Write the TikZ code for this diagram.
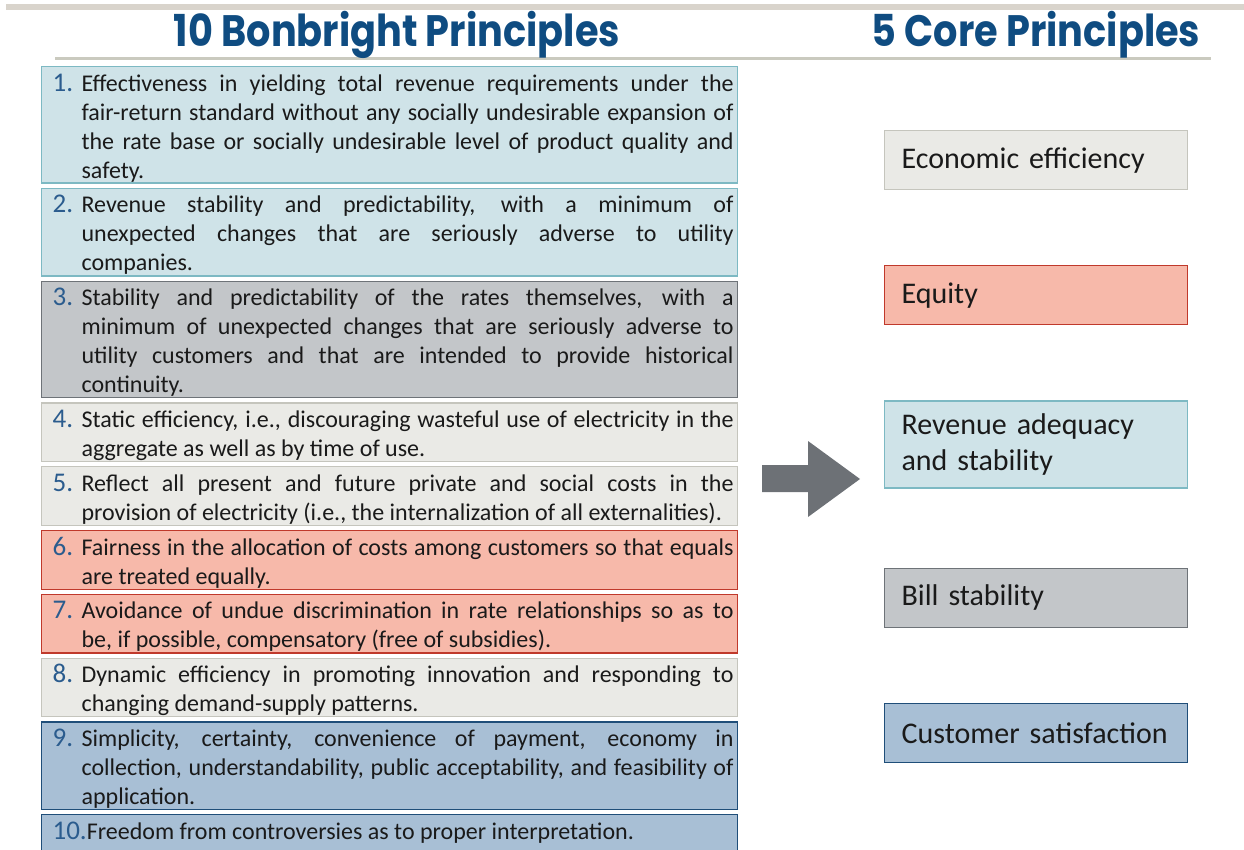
\documentclass[tikz,border=0pt]{standalone}
\usepackage{fontspec}
\setmainfont{Carlito}
\newfontfamily\titlefont{Poppins}
\usetikzlibrary{positioning}

\definecolor{titleblue}{HTML}{0F4C81}
\definecolor{numblue}{HTML}{2B5C8E}
\definecolor{inktext}{HTML}{1A1A1A}
\definecolor{barcol}{HTML}{D9D4CC}
\definecolor{rulecol}{HTML}{CACABF}
\definecolor{tealfill}{HTML}{CFE3E8}
\definecolor{tealline}{HTML}{7DB9C3}
\definecolor{greyfill}{HTML}{C3C6C9}
\definecolor{greyline}{HTML}{6E7378}
\definecolor{palefill}{HTML}{EAEAE6}
\definecolor{paleline}{HTML}{C5C5BD}
\definecolor{redfill}{HTML}{F7B9AA}
\definecolor{redline}{HTML}{C0392B}
\definecolor{bluefill}{HTML}{A8BFD5}
\definecolor{blueline}{HTML}{1F4E79}
\definecolor{arrowcol}{HTML}{6D7176}

\newsavebox\numbox
\newcommand\bnum[1]{\rule{0pt}{24.5pt}\sbox\numbox{\color{numblue}\fontsize{27}{29}\selectfont #1.}%
  \ifdim\wd\numbox<29pt \makebox[29pt][l]{\usebox\numbox}\else\usebox\numbox\fi}

\begin{document}
\begin{tikzpicture}[x=1pt,y=-1pt,
    every node/.style={text=inktext},
    lbox/.style={draw, line width=1.2pt, text width=696pt, inner xsep=0pt, inner ysep=0pt,
      align=justify, font=\fontsize{24}{29}\selectfont,
      execute at begin node={\leftskip=11pt\rightskip=4pt\hangindent=29pt\hangafter=1
        \hyphenpenalty=10000\tolerance=10000},
      execute at end node={\rule[-5pt]{0pt}{0pt}}},
    rbox/.style={draw, line width=1.2pt, minimum width=303pt, minimum height=59pt,
      text width=269pt, inner xsep=17pt, align=left, font=\fontsize{30}{36}\selectfont},
    teal/.style={fill=tealfill, draw=tealline},
    grey/.style={fill=greyfill, draw=greyline},
    pale/.style={fill=palefill, draw=paleline},
    red/.style={fill=redfill, draw=redline},
    steel/.style={fill=bluefill, draw=blueline},
    title/.style={text=titleblue, font=\titlefont\bfseries\fontsize{44}{48}\selectfont, anchor=base},
    node distance=4.1pt]

  \useasboundingbox (0,0) rectangle (1244,850);

  % Draw the header bars
  \fill[barcol] (6,4) rectangle (1244,10);
  \fill[rulecol] (55,57) rectangle (1211,60);

  % Titles
  \node[title] (lhead) at (397,47) {\scalebox{0.87}[1]{10 Bonbright Principles}};
  \node[title] (rhead) at (1036,47) {\scalebox{0.87}[1]{5 Core Principles}};

  % Left column: the ten principles
  \node[lbox, teal, anchor=north west] (b1) at (41,66) {\bnum{1}Effectiveness in yielding total revenue requirements under the\linebreak
    fair-return standard without any socially undesirable expansion of\linebreak
    the rate base or socially undesirable level of product quality and\linebreak safety.};
  \node[lbox, teal, below=of b1] (b2) {\bnum{2}Revenue stability and predictability, with a minimum of\linebreak
    unexpected changes that are seriously adverse to utility\linebreak companies.};
  \node[lbox, grey, below=of b2] (b3) {\bnum{3}Stability and predictability of the rates themselves, with a\linebreak
    minimum of unexpected changes that are seriously adverse to\linebreak
    utility customers and that are intended to provide historical\linebreak continuity.};
  \node[lbox, pale, below=of b3] (b4) {\bnum{4}Static efficiency, i.e., discouraging wasteful use of electricity in the\linebreak
    aggregate as well as by time of use.};
  \node[lbox, pale, below=of b4] (b5) {\bnum{5}Reflect all present and future private and social costs in the\linebreak
    provision of electricity (i.e., the internalization of all externalities).};
  \node[lbox, red, below=of b5] (b6) {\bnum{6}Fairness in the allocation of costs among customers so that equals\linebreak
    are treated equally.};
  \node[lbox, red, below=of b6] (b7) {\bnum{7}Avoidance of undue discrimination in rate relationships so as to\linebreak
    be, if possible, compensatory (free of subsidies).};
  \node[lbox, pale, below=of b7] (b8) {\bnum{8}Dynamic efficiency in promoting innovation and responding to\linebreak
    changing demand-supply patterns.};
  \node[lbox, steel, below=of b8] (b9) {\bnum{9}Simplicity, certainty, convenience of payment, economy in\linebreak
    collection, understandability, public acceptability, and feasibility of\linebreak application.};
  \node[lbox, steel, below=of b9, execute at end node={}] (b10) {\bnum{10}Freedom from controversies as to proper interpretation.\par\vspace*{30pt}};

  % Big arrow
  \fill[arrowcol] (762,465) -- (808,465) -- (808,441) -- (860,479) -- (808,517)
    -- (808,492) -- (762,492) -- cycle;

  % Right column: the five core principles
  \node[rbox, pale, anchor=north west] (c1) at (884,130) {Economic efficiency};
  \node[rbox, red, below=75pt of c1] (c2) {Equity};
  \node[rbox, teal, minimum height=87pt, below=75pt of c2] (c3) {Revenue adequacy\\ and stability};
  \node[rbox, grey, below=79pt of c3] (c4) {Bill stability};
  \node[rbox, steel, below=75pt of c4] (c5) {Customer satisfaction};
\end{tikzpicture}
\end{document}
